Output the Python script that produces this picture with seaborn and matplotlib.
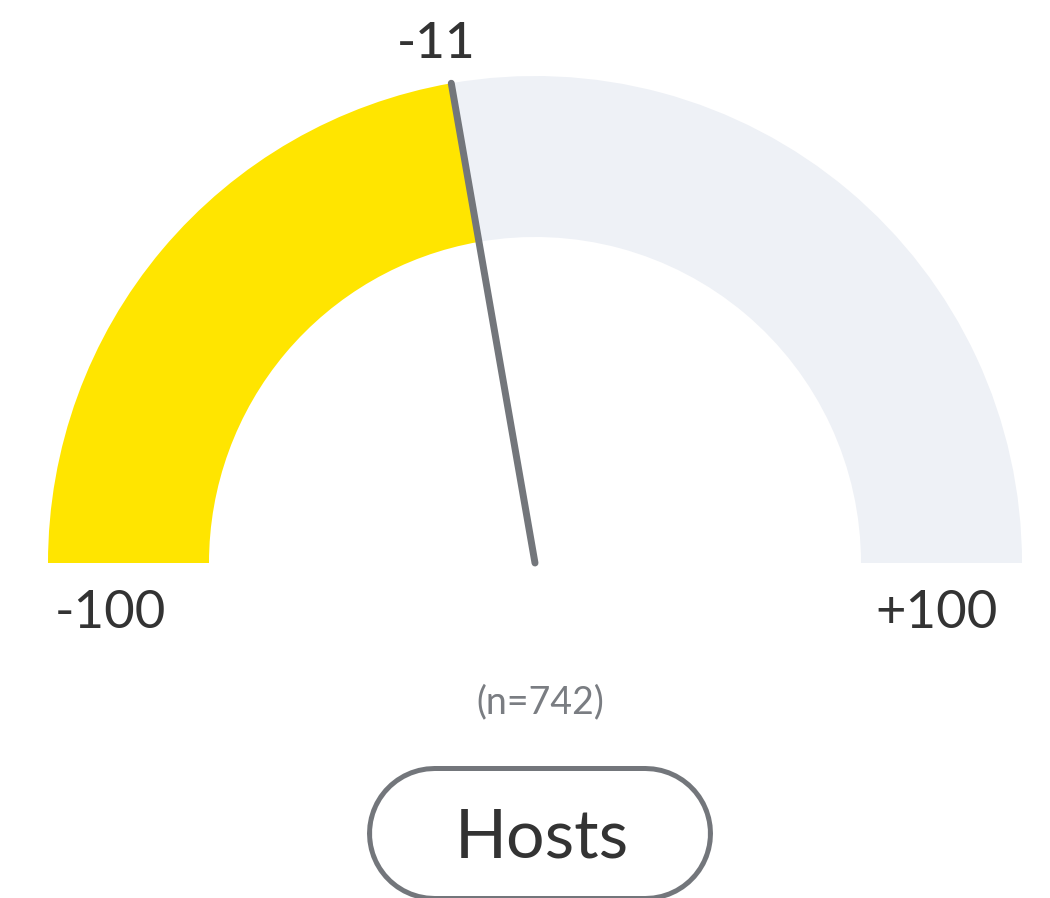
import matplotlib
matplotlib.use("Agg")
import matplotlib.pyplot as plt
import seaborn as sns
import numpy as np
from matplotlib.patches import Wedge

# Data
value = -11
scale_min = -100
scale_max = 100
min_label = "-100"
max_label = "+100"
n_label = "(n=742)"
group_label = "Hosts"

colors = {"fill": "#FFE500", "track": "#EEF1F6", "needle": "#73767B",
          "text": "#333333", "muted": "#7A7D82"}

sns.set_theme(style="white")
plt.rcParams['font.family'] = ['Lato', 'DejaVu Sans']

PX = 487.0  # pixels per data unit
CX, CY = 535, 563


def px(x, y):
    return (x - CX) / PX, (CY - y) / PX


fig = plt.figure(figsize=(10.5, 8.98), dpi=100)
ax = fig.add_axes([0, 0, 1, 1])
ax.set_xlim(-CX / PX, (1050 - CX) / PX)
ax.set_ylim((CY - 898) / PX, CY / PX)
ax.set_aspect('equal')
ax.axis('off')

r_out = 1.0
r_in = 326 / PX


def val_to_angle(v):
    return 180.0 - (v - scale_min) / (scale_max - scale_min) * 180.0


a_val = val_to_angle(value)
ax.add_patch(Wedge((0, 0), r_out, 0, a_val, width=r_out - r_in,
                   facecolor=colors["track"], edgecolor='none'))
ax.add_patch(Wedge((0, 0), r_out, a_val, 180, width=r_out - r_in,
                   facecolor=colors["fill"], edgecolor='none'))

th = np.deg2rad(a_val)
ax.plot([0, r_out * np.cos(th)], [0, r_out * np.sin(th)], color=colors["needle"],
        lw=5, solid_capstyle='round', zorder=5)

lx, _ = px(436, 0)
ax.text(lx, px(0, 58)[1], f"{value}", ha='center', va='baseline',
        fontsize=37, color=colors["text"], fontweight='medium')

ax.text(*px(110, 628), min_label, ha='center', va='baseline',
        fontsize=38, color=colors["text"])
ax.text(*px(937, 628), max_label, ha='center', va='baseline',
        fontsize=38, color=colors["text"])

ax.text(*px(540, 713), n_label, ha='center', va='baseline',
        fontsize=27, color=colors["muted"])

# pill outline (outer grey stroke, inner white stroke, both round-capped)
pill_h = 135  # px
stroke = 5    # px
xa, yc = px(366 + pill_h / 2, 833)
xb, _ = px(712 - pill_h / 2, 833)
ax.plot([xa, xb], [yc, yc], color=colors["needle"], lw=pill_h * 0.72,
        solid_capstyle='round', zorder=3)
ax.plot([xa, xb], [yc, yc], color='white', lw=(pill_h - 2 * stroke) * 0.72,
        solid_capstyle='round', zorder=3.5)

ax.text(*px(542, 858), group_label, ha='center', va='baseline',
        fontsize=49, color=colors["text"], zorder=4)

fig.savefig("out.png", dpi=100)
